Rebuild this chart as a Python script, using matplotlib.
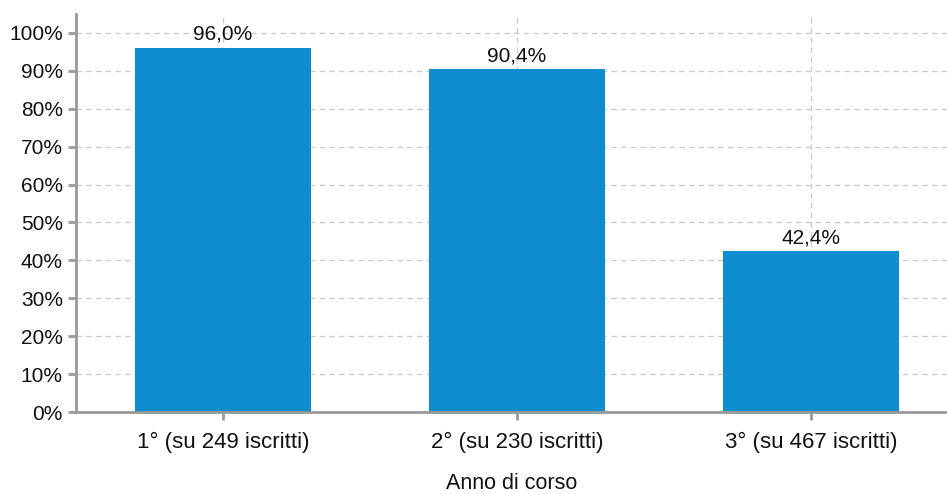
import matplotlib
matplotlib.use("Agg")
import matplotlib.pyplot as plt
from matplotlib.ticker import FuncFormatter, MultipleLocator

plt.rcParams["font.family"] = ["Liberation Sans", "DejaVu Sans"]

categories = ["1° (su 249 iscritti)", "2° (su 230 iscritti)", "3° (su 467 iscritti)"]
values = [96.0, 90.4, 42.4]
value_labels = ["96,0%", "90,4%", "42,4%"]

BAR_COLOR = "#0e8ecf"
AXIS_COLOR = "#999999"
GRID_COLOR = "#cccccc"

fig = plt.figure(figsize=(9.47, 4.94), dpi=100)
ax = fig.add_axes([76 / 947, 1 - 412 / 494, (947 - 76) / 947, (412 - 14) / 494])

x = list(range(len(categories)))
bars = ax.bar(x, values, width=0.6, color=BAR_COLOR, zorder=3)
for bar, label in zip(bars, value_labels):
    ax.annotate(label, (bar.get_x() + bar.get_width() / 2, bar.get_height()),
                xytext=(0, 3), textcoords="offset points",
                ha="center", va="bottom", fontsize=15, color="#111111", zorder=4)

ax.set_xlim(-0.5, 2.463)
ax.set_ylim(0, 105)
ax.set_xticks(x)
ax.set_xticklabels(categories)
ax.yaxis.set_major_locator(MultipleLocator(10))
ax.yaxis.set_major_formatter(FuncFormatter(lambda v, _: "%d%%" % v if v <= 100 else ""))
ax.set_yticks(range(0, 101, 10))

ax.grid(True, color=GRID_COLOR, linestyle=(0, (4, 3)), linewidth=1, zorder=0)
ax.set_axisbelow(True)

for side in ("top", "right"):
    ax.spines[side].set_visible(False)
for side in ("left", "bottom"):
    ax.spines[side].set_color(AXIS_COLOR)
    ax.spines[side].set_linewidth(2)
    ax.spines[side].set_zorder(5)

ax.tick_params(axis="both", colors=AXIS_COLOR, labelcolor="#111111",
               labelsize=15, length=6, width=2)
ax.tick_params(axis="x", labelsize=16, pad=8)
ax.set_xlabel("Anno di corso", fontsize=15.5, color="#111111", labelpad=15)

fig.savefig("out.png", dpi=100)
